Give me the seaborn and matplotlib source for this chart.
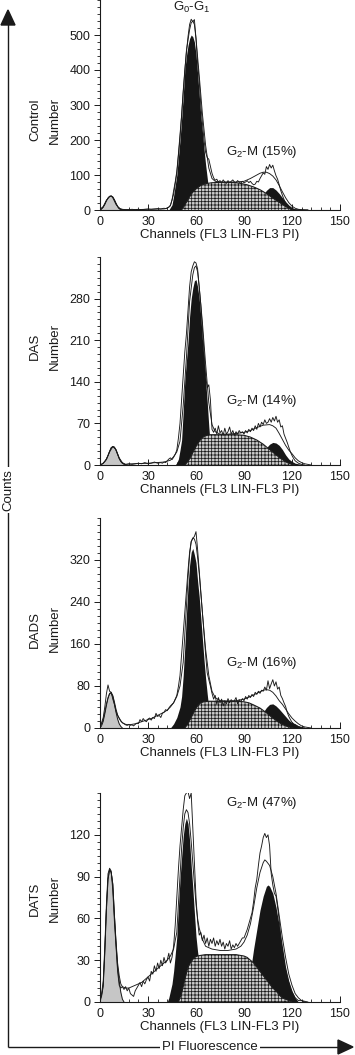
import matplotlib
matplotlib.use("Agg")
import matplotlib.pyplot as plt
import seaborn as sns
from matplotlib.ticker import FixedLocator, MultipleLocator, AutoMinorLocator
from matplotlib.patches import Polygon

# ---------------- DATA ----------------
# Control
ctrl_deb_x = [0,1,2,3,4,5,6,7,8,9,10,11,12,13,14]
ctrl_deb_y = [0,3,8,16,26,34,39,40,37,29,19,10,4,1,0]
ctrl_g1_x = [43,45,46,47,48,49,50,51,52,53,54,55,56,57,58,59,60,61,62,63,64,65,66,67,68,69,70,72]
ctrl_g1_y = [0,15,40,70,100,150,200,260,325,400,440,470,490,500,495,480,445,390,330,270,225,175,130,92,55,22,8,0]
ctrl_s_x = [51,53,55,57,59,61,63,65,67,70,75,80,85,88,92,96,100,104,108,112,116,119,121]
ctrl_s_y = [0,14,30,45,56,64,70,74,76,78,79,79,78,76,72,66,58,47,34,22,10,2,0]
ctrl_g2_x = [90,92,94,96,98,100,102,104,106,108,110,112,114,116,118,120,122,124,126]
ctrl_g2_y = [2,5,9,15,23,33,44,56,64,64,57,47,35,24,14,7,3,1,0]
ctrl_fit_x = [0,1,2,3,4,5,6,7,8,9,10,11,12,13,14,16,20,30,40,42,44,46,48,50,52,54,56,57,58,59,60,
              62,64,66,68,70,72,75,80,85,90,94,98,100,102,104,106,108,110,112,114,116,118,120,122,124,126,130]
ctrl_fit_y = [0,3,8,16,26,34,39,40,37,29,19,10,4,2,1,1,1,2,3,5,12,45,105,205,335,455,515,535,540,530,490,
              385,275,185,120,90,82,80,80,80,82,90,100,105,108,108,104,97,86,70,52,35,21,11,5,2,1,0]
ctrl_raw_x = [0,2,4,6,7,8,10,12,14,16,18,20,22,24,26,28,30,32,34,36,38] + list(range(39, 123)) + [124,126,130]
ctrl_raw_y = [2,10,28,38,40,35,16,5,2,1,1,2,1,2,1,2,3,2,3,4,3,
              4,5,4,6,8,14,28,55,80,110,            # 39-48
              160,215,270,340,400,450,495,530,545,538,  # 49-58
              544,490,420,370,300,250,200,165,150,145,  # 59-68
              125,105,92,85,88,80,84,78,86,80,      # 69-78
              76,84,78,82,86,80,78,84,80,76,        # 79-88
              82,78,80,84,78,82,76,72,74,82,        # 89-98
              80,90,98,106,102,124,116,130,120,128, # 99-108
              112,98,88,72,55,42,30,20,14,8,        # 109-118
              5,3,2,1,                              # 119-122
              1,0,0]

# DAS
das_deb_x = [0,1,2,3,4,5,6,7,8,9,10,11,12,13,14,15,16]
das_deb_y = [0,1,3,6,10,16,23,29,31,30,25,18,11,6,3,1,0]
das_g1_x = [47,48,49,50,51,52,53,54,55,56,57,58,59,60,61,62,63,64,65,66,67,68,69,70,71,72]
das_g1_y = [0,4,10,25,42,90,141,175,208,250,280,298,310,312,300,280,250,212,180,143,107,65,30,10,3,0]
das_s_x = [53,55,57,59,61,63,65,67,69,72,76,80,85,90,94,98,102,106,110,114,117,120,122]
das_s_y = [0,6,15,26,36,43,48,50,51,51,51,51,51,50,47,42,35,26,17,9,4,1,0]
das_g2_x = [92,95,98,100,102,104,106,108,110,112,114,116,118,120,122,124,126,128]
das_g2_y = [2,5,10,15,22,29,35,38,37,33,26,17,10,6,3,2,1,0]
das_fit_x = [0,1,2,3,4,5,6,7,8,9,10,11,12,13,14,15,16,20,30,40,44,46,48,50,52,54,56,58,59,60,61,62,
             64,66,68,70,72,75,80,85,90,94,98,102,106,108,110,112,114,116,118,120,122,124,126,128,132]
das_fit_y = [0,1,3,6,10,16,23,29,31,30,25,18,11,6,3,2,1,2,3,5,8,14,22,40,100,180,275,320,332,335,325,300,
             240,170,105,68,56,52,52,53,55,58,63,67,68,66,62,53,43,33,25,19,12,7,4,2,0]
das_raw_x = [0,2,4,6,8,10,12,14,16,18,20,22,24,26,28,30,32,34,36,38] + list(range(39, 125)) + [126,128]
das_raw_y = [0,3,9,22,31,26,12,4,1,2,1,2,3,2,4,2,3,5,3,4,
             3,5,4,7,10,12,9,13,18,25,             # 39-48
             45,70,110,150,190,220,260,300,325,335, # 49-58
             342,340,330,300,270,230,190,150,130,135, # 59-68
             110,60,55,62,52,66,54,58,50,62,       # 69-78
             52,56,64,52,58,50,56,52,58,54,        # 79-88
             56,52,58,54,60,56,62,58,66,60,        # 89-98
             70,64,72,68,76,70,72,78,72,80,        # 99-108
             74,82,72,76,64,66,52,45,38,30,        # 109-118
             22,16,11,7,5,3,                       # 119-124
             1,0]

# DADS
dads_deb_x = [0,1,2,3,4,5,6,7,8,9,10,11,12,13,14]
dads_deb_y = [0,4,12,26,42,56,65,66,60,46,30,17,8,3,0]
dads_g1_x = [44,46,48,50,51,52,53,54,55,56,57,58,59,60,61,62,63,64,65,66,67,68,69,70,71]
dads_g1_y = [0,8,20,40,60,100,155,215,270,310,335,342,330,315,280,250,210,170,130,95,65,38,18,6,0]
dads_s_x = [53,55,57,59,61,63,65,68,72,76,80,85,90,93,96,100,104,108,112,116,119,121]
dads_s_y = [0,8,20,32,42,48,50,51,51,51,51,51,50,48,44,38,29,19,10,4,1,0]
dads_g2_x = [92,95,98,100,102,104,106,108,110,112,114,116,118,120,122,124,126,128,130]
dads_g2_y = [3,7,14,21,30,39,45,46,42,36,29,22,15,10,8,4,2,1,0]
dads_fit_x = [0,1,2,3,4,5,6,7,8,9,10,11,12,13,14,16,18,20,22,24,26,28,30,32,34,36,38,40,42,44,46,48,50,
              52,54,55,56,57,58,59,60,61,62,64,66,68,70,72,75,80,85,90,94,98,
              102,104,106,108,110,112,114,116,118,120,122,124,126,128,132]
dads_fit_y = [2,8,16,30,46,58,66,68,62,50,36,25,18,13,10,7,6,7,8,10,12,14,16,18,21,24,27,30,34,40,48,60,80,
              125,230,285,330,355,362,360,350,325,295,220,150,100,70,58,52,51,52,55,60,66,
              72,73,72,68,61,52,45,36,27,19,13,8,4,2,0]
dads_raw_x = list(range(0, 125)) + [126,128]
dads_raw_y = [2,10,20,40,65,82,70,68,55,45,        # 0-9
              32,24,19,14,10,8,6,5,7,5,            # 10-19
              6,4,7,9,8,16,12,18,14,12,            # 20-29
              17,19,15,20,18,28,22,24,20,28,       # 30-39
              30,35,33,38,42,45,48,55,62,79,       # 40-49
              100,140,180,220,260,300,335,355,361,365, # 50-59
              374,340,300,260,220,180,140,105,92,80,   # 60-69
              66,55,62,45,58,48,55,42,52,46,       # 70-79
              56,48,54,50,52,58,46,54,50,56,       # 80-89
              52,60,55,62,58,64,60,68,64,70,       # 90-99
              66,72,70,78,72,90,75,84,92,80,       # 100-109
              88,74,78,62,56,48,41,30,22,16,       # 110-119
              11,8,6,4,3,                          # 120-124
              1,0]

# DATS
dats_deb_x = [0,1,2,3,4,5,6,7,8,9,10,11,12,13,14,15]
dats_deb_y = [0,4,11,35,66,88,95,93,84,62,42,25,15,7,2,0]
dats_g1_x = [42,43,44,45,46,47,48,49,50,51,52,53,54,55,56,57,58,59,60,61,62,63,64,65,66,68]
dats_g1_y = [0,3,8,13,22,34,47,68,88,104,119,128,132,128,116,98,82,64,47,36,28,20,13,8,4,0]
dats_s_x = [49,51,53,55,57,59,61,63,66,70,75,80,85,90,92,94,96,98,100,102,104,106,108,110,112,114,116,118,120]
dats_s_y = [0,6,16,25,29,32,33,33.5,34,34,34,34,34,33,32,30,28,25,22,19,16,13,10,8,5,3,2,1,0]
dats_g2_x = [88,90,92,94,96,98,100,102,104,105,106,108,110,112,114,116,118,120,122,124]
dats_g2_y = [3,6,12,22,38,52,66,76,83,84,83,78,68,55,40,25,15,8,3,0]
dats_fit_x = [0,1,2,3,4,5,6,7,8,9,10,11,12,13,14,16,18,20,22,24,26,28,30,32,34,36,38,40,42,44,46,48,
              50,51,52,53,54,55,56,57,58,59,60,61,62,64,66,70,75,80,85,88,
              90,92,94,96,98,100,102,103,104,106,108,110,112,114,116,118,120,122,124,126,130]
dats_fit_y = [2,5,12,36,66,88,95,93,85,63,44,28,19,13,11,10,10,11,12,13,14,16,18,20,22,24,26,28,30,33,38,50,
              90,110,125,135,138,136,128,115,100,85,70,60,53,45,40,38,37,37,38,40,
              43,48,56,68,82,93,100,102,101,98,90,78,62,46,32,20,12,6,3,1,0]
dats_raw_x = list(range(0, 125)) + [126,128]
dats_raw_y = [3,6,15,40,70,92,96,94,80,58,         # 0-9
              40,22,12,10,11,9,11,8,10,6,          # 10-19
              5,4,8,10,12,14,11,15,13,16,          # 20-29
              18,15,22,20,26,22,28,24,30,26,       # 30-39
              32,28,30,35,28,32,40,55,75,95,       # 40-49
              112,125,138,148,150,151,146,150,125,100, # 50-59
              75,58,48,50,44,48,42,46,40,45,       # 60-69
              42,46,40,44,41,45,40,43,38,42,       # 70-79
              40,44,38,41,39,42,40,42,44,46,       # 80-89
              46,49,52,56,60,64,72,82,88,98,       # 90-99
              107,112,118,121,118,120,112,92,84,78,# 100-109
              76,68,59,45,33,28,23,18,14,10,       # 110-119
              7,5,3,2,1,                           # 120-124
              1,0]

conditions = ["Control", "DAS", "DADS", "DATS"]
g2_labels = ["G$_2$-M (15%)", "G$_2$-M (14%)", "G$_2$-M (16%)", "G$_2$-M (47%)"]
y_max = [600, 350, 400, 150]
y_ticks = [[0, 100, 200, 300, 400, 500],
           [0, 70, 140, 210, 280],
           [0, 80, 160, 240, 320],
           [0, 30, 60, 90, 120]]
x_ticks = [0, 30, 60, 90, 120, 150]
x_label = "Channels (FL3 LIN-FL3 PI)"

series = [
    (ctrl_deb_x, ctrl_deb_y, ctrl_g1_x, ctrl_g1_y, ctrl_s_x, ctrl_s_y, ctrl_g2_x, ctrl_g2_y,
     ctrl_fit_x, ctrl_fit_y, ctrl_raw_x, ctrl_raw_y),
    (das_deb_x, das_deb_y, das_g1_x, das_g1_y, das_s_x, das_s_y, das_g2_x, das_g2_y,
     das_fit_x, das_fit_y, das_raw_x, das_raw_y),
    (dads_deb_x, dads_deb_y, dads_g1_x, dads_g1_y, dads_s_x, dads_s_y, dads_g2_x, dads_g2_y,
     dads_fit_x, dads_fit_y, dads_raw_x, dads_raw_y),
    (dats_deb_x, dats_deb_y, dats_g1_x, dats_g1_y, dats_s_x, dats_s_y, dats_g2_x, dats_g2_y,
     dats_fit_x, dats_fit_y, dats_raw_x, dats_raw_y),
]

# ---------------- LAYOUT / STYLE ----------------
sns.set_theme(style="ticks")
plt.rcParams["font.family"] = ["Liberation Sans", "DejaVu Sans"]
plt.rcParams["mathtext.default"] = "regular"
plt.rcParams["hatch.linewidth"] = 0.55

W, H = 355, 1055
fig = plt.figure(figsize=(W / 100, H / 100), dpi=100)

overlay = fig.add_axes([0, 0, 1, 1])
overlay.set_xlim(0, W)
overlay.set_ylim(H, 0)
overlay.axis("off")

# axes rectangles in pixel coords: (top, bottom)
ax_px = [(0, 210), (257, 465), (518, 728), (793, 1002)]
label_yc = [120, 346, 629, 899]
g2_pos = [(101, 166), (101, 108), (101, 124), (101, 143)]
left_px, right_px = 100, 340
TICK_FS, LAB_FS = 9, 9.5

for i, (deb_x, deb_y, g1_x, g1_y, s_x, s_y, g2_x, g2_y, fit_x, fit_y, raw_x, raw_y) in enumerate(series):
    assert len(raw_x) == len(raw_y) and len(fit_x) == len(fit_y)
    top, bot = ax_px[i]
    ax = fig.add_axes([left_px / W, 1 - bot / H, (right_px - left_px) / W, (bot - top) / H])
    ax.patch.set_alpha(0)

    ax.fill_between(deb_x, 0, deb_y, color="#c6c6c6", lw=0, zorder=2)
    ax.fill_between(g1_x, 0, g1_y, color="#161616", lw=0, zorder=2)
    ax.fill_between(g2_x, 0, g2_y, color="#161616", lw=0, zorder=2)
    ax.fill_between(s_x, 0, s_y, facecolor="#cbcbcb", edgecolor="#1a1a1a",
                    hatch="+++++", lw=0, zorder=3)
    sns.lineplot(x=s_x, y=s_y, ax=ax, color="k", lw=0.75, estimator=None, zorder=3.5)
    sns.lineplot(x=deb_x, y=deb_y, ax=ax, color="k", lw=0.7, estimator=None, zorder=3.5)
    sns.lineplot(x=fit_x, y=fit_y, ax=ax, color="k", lw=0.65, estimator=None, zorder=4)
    sns.lineplot(x=raw_x, y=raw_y, ax=ax, color="k", lw=0.65, estimator=None, zorder=4.5)

    ax.set_xlim(0, 150)
    ax.set_ylim(0, y_max[i])
    ax.xaxis.set_major_locator(FixedLocator(x_ticks))
    ax.xaxis.set_minor_locator(MultipleLocator(6))
    ax.yaxis.set_major_locator(FixedLocator(y_ticks[i]))
    ax.yaxis.set_minor_locator(MultipleLocator(y_ticks[i][1] / (5 if i == 0 else 6)))

    for s in ["top", "right"]:
        ax.spines[s].set_visible(False)
    for s in ["left", "bottom"]:
        ax.spines[s].set_color("k")
        ax.spines[s].set_linewidth(0.8)
    ax.tick_params(axis="y", which="major", direction="out", length=4, width=0.7,
                   pad=3, labelsize=TICK_FS, colors="k")
    ax.tick_params(axis="y", which="minor", direction="out", length=2.3, width=0.6, colors="k")
    ax.tick_params(axis="x", which="major", direction="in", length=4, width=0.7,
                   pad=4.5, labelsize=TICK_FS, colors="k")
    ax.tick_params(axis="x", which="minor", direction="in", length=2.5, width=0.6, colors="k")
    ax.set_xlabel(x_label, fontsize=LAB_FS, labelpad=0.5, color="k")
    ax.set_ylabel("")

    gx, gy = g2_pos[i]
    ax.text(gx, gy, g2_labels[i], ha="center", va="center", fontsize=LAB_FS, color="k", zorder=6)
    if i == 0:
        ax.text(57.5, 580, "G$_0$-G$_1$", ha="center", va="center", fontsize=LAB_FS,
                color="k", clip_on=False, zorder=6)

    overlay.text(35, label_yc[i], conditions[i], rotation=90, ha="center", va="center",
                 fontsize=LAB_FS, color="k")
    overlay.text(55, label_yc[i], "Number", rotation=90, ha="center", va="center",
                 fontsize=LAB_FS, color="k")

# outer axis arrows
overlay.plot([8, 8], [1047, 24], color="k", lw=1.0, solid_capstyle="butt")
overlay.plot([8, 339], [1047, 1047], color="k", lw=1.0, solid_capstyle="butt")
overlay.add_patch(Polygon([[1, 25], [15, 25], [8, 10]], closed=True, color="k"))
overlay.add_patch(Polygon([[338, 1040], [338, 1054], [353, 1047]], closed=True, color="k"))
overlay.text(8, 490, "Counts", rotation=90, ha="center", va="center", fontsize=LAB_FS, color="k",
             bbox=dict(facecolor="white", edgecolor="none", pad=1.5))
overlay.text(210, 1047, "PI Fluorescence", ha="center", va="center", fontsize=LAB_FS, color="k",
             bbox=dict(facecolor="white", edgecolor="none", pad=1.5))

fig.savefig("out.png", dpi=100)
